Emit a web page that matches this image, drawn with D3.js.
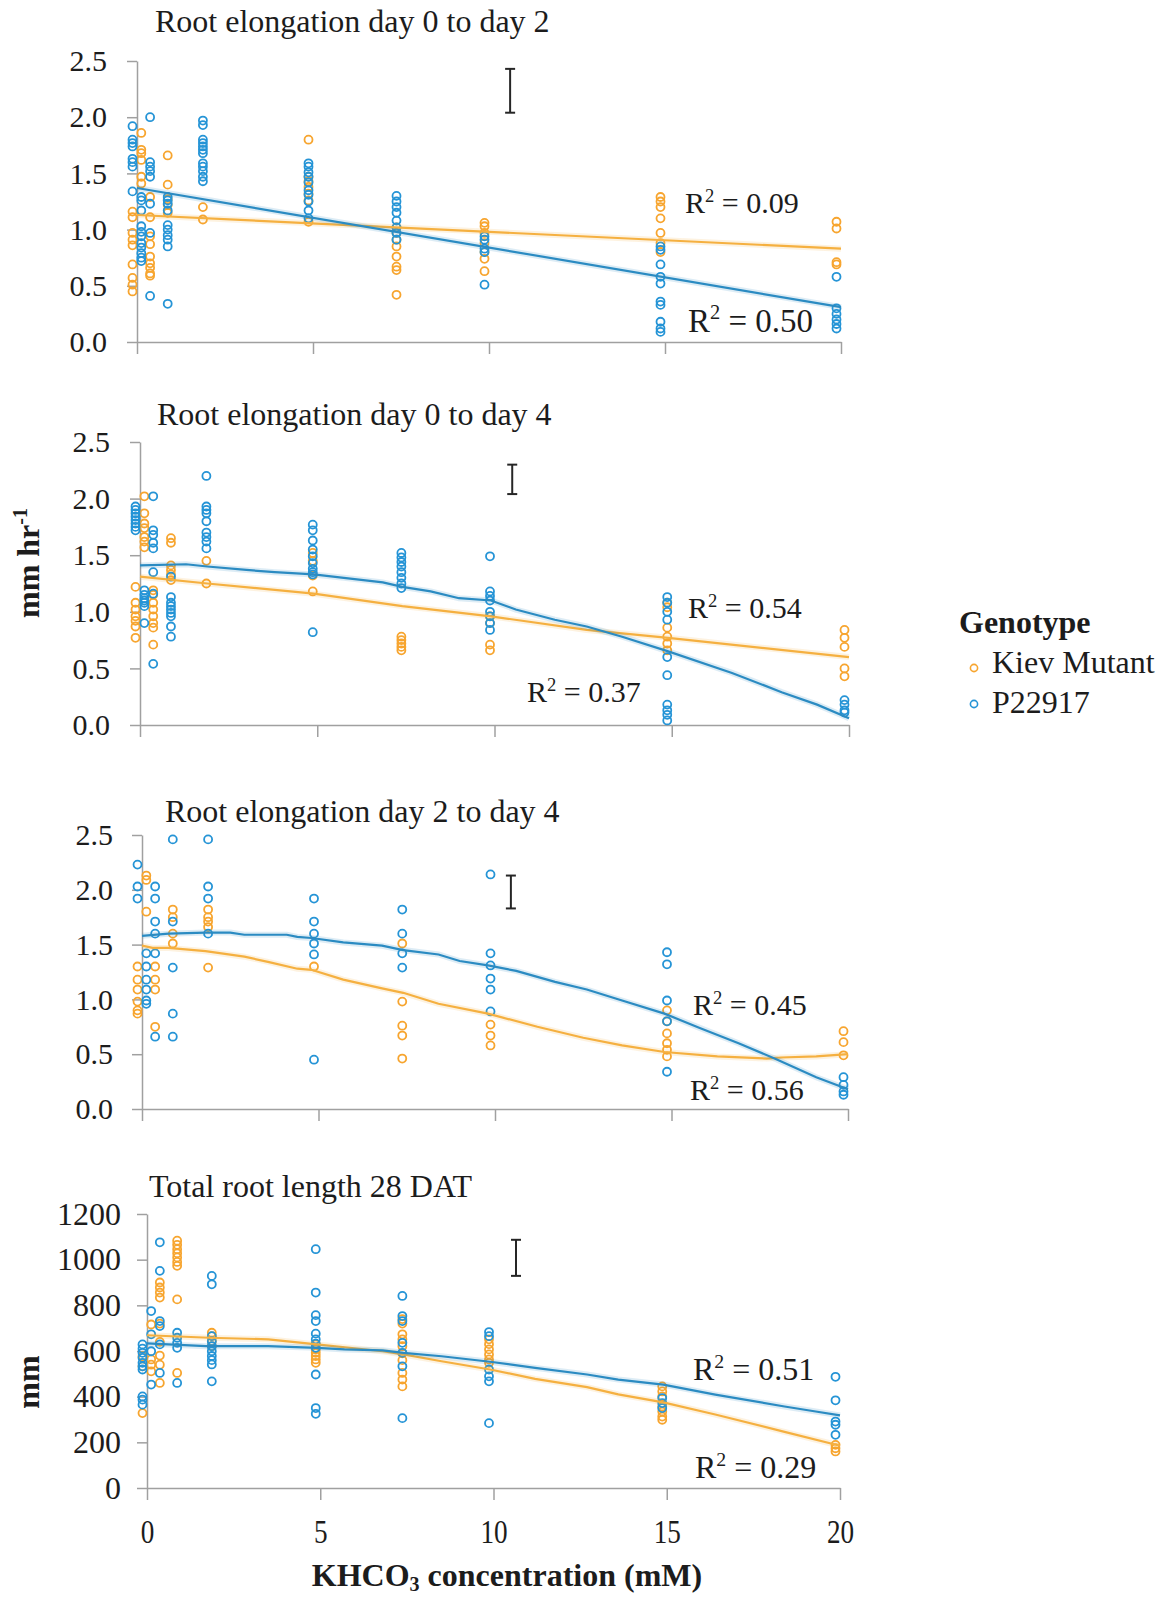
<!DOCTYPE html>
<html>
<head>
<meta charset="utf-8">
<script src="https://cdn.jsdelivr.net/npm/d3@7"></script>
<style>
  html, body { margin: 0; padding: 0; background: #fff; }
  svg { display: block; font-family: "Liberation Serif", "Times New Roman", serif; }
</style>
</head>
<body>
<svg id="chart" width="1170" height="1597"></svg>
<script>
// KHCO3 concentrations (mM) at which roots were measured
const concentrations = [0, 0.25, 0.5, 1, 2, 5, 7.5, 10, 15, 20];
const xTicks = [0, 5, 10, 15, 20];
const rateTicks = [0, 0.5, 1.0, 1.5, 2.0, 2.5];
const lengthTicks = [0, 200, 400, 600, 800, 1000, 1200];
const genotypes = ["Kiev Mutant", "P22917"];
const panelTitles = [
  "Root elongation day 0 to day 2",
  "Root elongation day 0 to day 4",
  "Root elongation day 2 to day 4",
  "Total root length 28 DAT"
];

// Elongation rate (mm hr-1), one list of plants per concentration
const day0to2Kiev = [
  [1.16, 1.11, 0.97, 0.91, 0.86, 0.69, 0.57, 0.51, 0.45],
  [1.86, 1.71, 1.68, 1.62, 1.47, 1.41],
  [1.29, 1.11, 0.94, 0.87, 0.76, 0.70, 0.66, 0.61, 0.59],
  [1.66, 1.40, 1.27, 1.22, 1.15],
  [1.20, 1.09],
  [1.80, 1.47, 1.43, 1.38, 1.32, 1.26, 1.07],
  [1.02, 0.97, 0.91, 0.85, 0.76, 0.67, 0.64, 0.42],
  [1.06, 1.03, 0.97, 0.88, 0.80, 0.74, 0.63],
  [1.29, 1.25, 1.20, 1.10, 0.97, 0.88, 0.80],
  [1.07, 1.01, 0.71, 0.69]
];
const day0to2P22917 = [
  [1.92, 1.80, 1.77, 1.74, 1.63, 1.60, 1.56, 1.34],
  [1.29, 1.26, 1.17, 1.03, 0.98, 0.94, 0.88, 0.84, 0.79, 0.75, 0.72],
  [2.00, 1.60, 1.56, 1.52, 1.47, 1.23, 0.97, 0.41],
  [1.29, 1.26, 1.23, 1.17, 1.04, 1.00, 0.95, 0.91, 0.85, 0.34],
  [1.97, 1.93, 1.80, 1.77, 1.74, 1.71, 1.68, 1.59, 1.56, 1.52, 1.47, 1.43],
  [1.59, 1.56, 1.51, 1.47, 1.42, 1.35, 1.31, 1.25, 1.17, 1.10],
  [1.30, 1.25, 1.20, 1.15, 1.08, 1.02, 0.97, 0.91],
  [0.94, 0.91, 0.83, 0.80, 0.51],
  [0.85, 0.82, 0.69, 0.58, 0.52, 0.36, 0.33, 0.18, 0.12, 0.09],
  [0.58, 0.30, 0.25, 0.20, 0.16, 0.12]
];
const day0to4Kiev = [
  [1.22, 1.08, 1.02, 0.96, 0.92, 0.87, 0.77],
  [2.02, 1.87, 1.78, 1.74, 1.66, 1.62, 1.57],
  [1.19, 1.15, 1.08, 1.02, 0.96, 0.90, 0.86, 0.71],
  [1.65, 1.61, 1.41, 1.37, 1.33, 1.28],
  [1.45, 1.25],
  [1.52, 1.45, 1.32, 1.18],
  [0.78, 0.75, 0.72, 0.69, 0.66],
  [0.96, 0.90, 0.71, 0.66],
  [1.08, 1.04, 0.86, 0.78, 0.72, 0.66],
  [0.84, 0.77, 0.69, 0.50, 0.43]
];
const day0to4P22917 = [
  [1.93, 1.90, 1.87, 1.84, 1.81, 1.78, 1.75, 1.72],
  [1.19, 1.15, 1.12, 1.10, 1.08, 1.05, 0.90],
  [2.02, 1.72, 1.68, 1.61, 1.56, 1.35, 1.16, 0.54],
  [1.31, 1.13, 1.08, 1.05, 1.02, 0.99, 0.96, 0.87, 0.78],
  [2.20, 1.93, 1.90, 1.87, 1.80, 1.70, 1.66, 1.62, 1.56],
  [1.77, 1.72, 1.63, 1.55, 1.49, 1.43, 1.38, 1.35, 1.33, 0.82],
  [1.52, 1.48, 1.44, 1.40, 1.35, 1.30, 1.25, 1.21],
  [1.49, 1.18, 1.14, 1.10, 1.00, 0.96, 0.90, 0.84],
  [1.13, 1.08, 1.00, 0.93, 0.60, 0.44, 0.18, 0.13, 0.09, 0.04],
  [0.22, 0.18, 0.13, 0.11]
];
const day2to4Kiev = [
  [1.30, 1.18, 1.09, 0.98, 0.90, 0.87],
  [2.13, 2.09, 1.80],
  [1.30, 1.18, 1.09, 0.75],
  [1.82, 1.75, 1.60, 1.51],
  [1.82, 1.75, 1.71, 1.66, 1.29],
  [1.30],
  [1.51, 0.98, 0.76, 0.67, 0.46],
  [0.77, 0.67, 0.58],
  [0.90, 0.80, 0.69, 0.60, 0.54, 0.48],
  [0.71, 0.61, 0.49]
];
const day2to4P22917 = [
  [2.23, 2.03, 1.92],
  [1.42, 1.30, 1.18, 1.09, 0.99, 0.96],
  [2.03, 1.92, 1.71, 1.60, 1.42, 0.66],
  [2.46, 1.71, 1.29, 0.87, 0.66],
  [2.46, 2.03, 1.92, 1.60],
  [1.92, 1.71, 1.60, 1.51, 1.41, 0.45],
  [1.82, 1.60, 1.42, 1.29],
  [2.14, 1.42, 1.31, 1.19, 1.09, 0.89],
  [1.43, 1.32, 0.99, 0.80, 0.34],
  [0.29, 0.22, 0.16, 0.13]
];
// Total root length (mm) at 28 days after transplanting
const lengthKiev = [
  [577, 533, 328],
  [716, 563, 540, 511],
  [900, 878, 856, 834, 720, 640, 580, 540, 460],
  [1083, 1065, 1046, 1028, 1010, 990, 973, 826, 504],
  [680, 665, 643, 621],
  [629, 607, 592, 578, 563, 548],
  [740, 720, 673, 651, 621, 590, 560, 504, 475, 445],
  [651, 630, 607, 585, 563, 548],
  [445, 423, 401, 357, 335, 313, 299],
  [189, 174, 160]
];
const lengthP22917 = [
  [629, 610, 592, 570, 548, 533, 519, 401, 387, 365],
  [775, 673, 599, 453],
  [1076, 951, 731, 709, 629, 504],
  [680, 658, 636, 614, 460],
  [929, 892, 665, 643, 621, 599, 578, 560, 541, 467],
  [1046, 856, 757, 731, 676, 651, 632, 614, 497, 350, 325],
  [841, 753, 731, 636, 592, 533, 306],
  [683, 665, 519, 489, 467, 284],
  [394, 372, 350],
  [487, 384, 291, 277, 233]
];

// Fitted trend lines, [concentration, value]
const day0to2KievFit = [[0, 1.13], [20, 0.83]];
const day0to2P22917Fit = [[0, 1.37], [20, 0.31]];
const day0to4KievFit = [[0, 1.31], [1.9, 1.25], [4.9, 1.16], [7.4, 1.05], [9.9, 0.96], [12.6, 0.84], [14.9, 0.77], [20, 0.60]];
const day0to4P22917Fit = [[0, 1.41], [1.3, 1.42], [1.9, 1.40], [3.0, 1.37], [3.8, 1.35], [4.9, 1.33], [5.75, 1.30], [6.85, 1.26], [7.4, 1.22], [8.2, 1.18], [9.0, 1.12], [9.9, 1.10], [10.6, 1.02], [11.7, 0.93], [12.6, 0.87], [13.6, 0.78], [14.9, 0.65], [16.7, 0.46], [18.1, 0.29], [19.1, 0.18], [20, 0.06]];
const day2to4KievFit = [[0, 1.49], [0.3, 1.47], [0.75, 1.47], [1.8, 1.44], [2.9, 1.39], [3.6, 1.34], [4.4, 1.28], [4.8, 1.27], [5.7, 1.18], [6.8, 1.10], [7.4, 1.06], [8.4, 0.96], [9.8, 0.87], [11.2, 0.75], [12.5, 0.65], [13.6, 0.58], [14.8, 0.52], [16.3, 0.48], [17.7, 0.46], [18.1, 0.47], [19.1, 0.48], [20, 0.50]];
const day2to4P22917Fit = [[0, 1.58], [0.75, 1.60], [1.8, 1.61], [2.5, 1.61], [2.9, 1.59], [4.1, 1.59], [4.4, 1.57], [4.8, 1.56], [5.7, 1.52], [6.8, 1.49], [7.4, 1.45], [8.4, 1.41], [9.0, 1.35], [9.8, 1.31], [10.6, 1.26], [11.7, 1.16], [12.6, 1.09], [13.6, 0.99], [14.8, 0.87], [15.8, 0.74], [16.9, 0.60], [18.0, 0.45], [19.1, 0.29], [20, 0.18]];
const lengthKievFit = [[0, 669], [1.8, 658], [3.5, 651], [4.9, 629], [6.8, 599], [7.4, 585], [8.5, 555], [9.9, 519], [11.2, 478], [12.7, 442], [13.6, 410], [14.9, 375], [16.4, 322], [18.4, 246], [20, 185]];
const lengthP22917Fit = [[0, 633], [1.7, 621], [3.5, 621], [4.9, 614], [5.7, 607], [6.8, 603], [7.4, 592], [8.5, 577], [9.9, 553], [11.2, 526], [12.7, 497], [13.6, 475], [14.9, 453], [16.4, 409], [18.4, 357], [19.3, 335], [20, 318]];

// Coefficients of determination printed beside each fit
const day0to2R2 = [0.09, 0.50];
const day0to4R2 = [0.54, 0.37];
const day2to4R2 = [0.45, 0.56];
const lengthR2 = [0.51, 0.29];

// Least significant difference bars: [concentration, low, high]
const day0to2Lsd = [10.6, 2.04, 2.43];
const day0to4Lsd = [10.5, 2.04, 2.30];
const day2to4Lsd = [10.45, 1.83, 2.13];
const lengthLsd = [10.65, 929, 1087];

// ---- styling ----
const POINT_COLOR = { kiev: "#f7a52f", p22917: "#2594d6" };
const LINE_COLOR = { kiev: "#f5b040", p22917: "#2b8bc2" };
const AXIS = "#a0a0a0";
const INK = "#1c1c1c";
const POINT_DX = -4.5;
const POINT_R = 4;

const panels = [
  { title: panelTitles[0], kiev: day0to2Kiev, p22917: day0to2P22917, kievFit: day0to2KievFit, p22917Fit: day0to2P22917Fit,
    r2: day0to2R2, lsd: day0to2Lsd, yMax: 2.5, yTicks: rateTicks, fmt: d3.format(".1f"), showX: false,
    layout: { x0: 137, x20: 841, yTop: 61, yBottom: 342, titleX: 155, titleY: 32, gap: 30, tickFont: 30,
              r2Pos: [[685, 213, 30], [688, 332, 33]] } },
  { title: panelTitles[1], kiev: day0to4Kiev, p22917: day0to4P22917, kievFit: day0to4KievFit, p22917Fit: day0to4P22917Fit,
    r2: day0to4R2, lsd: day0to4Lsd, yMax: 2.5, yTicks: rateTicks, fmt: d3.format(".1f"), showX: false,
    layout: { x0: 140, x20: 849, yTop: 442, yBottom: 725, titleX: 157, titleY: 425, gap: 30, tickFont: 30,
              r2Pos: [[688, 618, 30], [527, 702, 30]] } },
  { title: panelTitles[2], kiev: day2to4Kiev, p22917: day2to4P22917, kievFit: day2to4KievFit, p22917Fit: day2to4P22917Fit,
    r2: day2to4R2, lsd: day2to4Lsd, yMax: 2.5, yTicks: rateTicks, fmt: d3.format(".1f"), showX: false,
    layout: { x0: 142, x20: 848, yTop: 835, yBottom: 1109, titleX: 165, titleY: 822, gap: 29, tickFont: 30,
              r2Pos: [[693, 1015, 30], [690, 1100, 30]] } },
  { title: panelTitles[3], kiev: lengthKiev, p22917: lengthP22917, kievFit: lengthKievFit, p22917Fit: lengthP22917Fit,
    r2: lengthR2, lsd: lengthLsd, yMax: 1200, yTicks: lengthTicks, fmt: d3.format("d"), showX: true,
    layout: { x0: 147, x20: 840, yTop: 1214, yBottom: 1488, titleX: 149, titleY: 1197, gap: 26, tickFont: 32,
              r2Pos: [[693, 1380, 32], [695, 1478, 32]] } }
];

const svg = d3.select("#chart");

function flatten(rows, key) {
  return rows.flatMap((vals, i) => vals.map(v => ({ c: concentrations[i], v, key })));
}

function drawPanel(p) {
  const L = p.layout;
  const x = d3.scaleLinear().domain([0, 20]).range([L.x0, L.x20]);
  const y = d3.scaleLinear().domain([0, p.yMax]).range([L.yBottom, L.yTop]);
  const g = svg.append("g");

  // y axis with outward ticks
  const gy = g.append("g")
    .attr("transform", `translate(${L.x0},0)`)
    .call(d3.axisLeft(y).tickValues(p.yTicks).tickSize(10).tickSizeOuter(0)
      .tickPadding(L.gap - 10).tickFormat(p.fmt));
  gy.attr("font-family", null).attr("font-size", null);
  gy.select(".domain").attr("stroke", AXIS).attr("stroke-width", 1.5);
  gy.selectAll(".tick line").attr("stroke", AXIS).attr("stroke-width", 1.5);
  gy.selectAll(".tick text").attr("font-size", L.tickFont).attr("fill", INK);

  // x axis with downward ticks; numbers only under the last panel
  const gx = g.append("g")
    .attr("transform", `translate(0,${L.yBottom})`)
    .call(d3.axisBottom(x).tickValues(xTicks).tickSize(12).tickSizeOuter(0)
      .tickPadding(19).tickFormat(p.showX ? d3.format("d") : () => ""));
  gx.attr("font-family", null).attr("font-size", null);
  gx.select(".domain").attr("stroke", AXIS).attr("stroke-width", 1.5);
  gx.selectAll(".tick line").attr("stroke", AXIS).attr("stroke-width", 1.5);
  gx.selectAll(".tick text").attr("font-size", 34).attr("fill", INK)
    .attr("transform", "scale(0.8,1)");

  // individual plants
  const pts = flatten(p.kiev, "kiev").concat(flatten(p.p22917, "p22917"));
  g.append("g").attr("transform", `translate(${POINT_DX},0)`)
    .selectAll("circle").data(pts).join("circle")
    .attr("cx", d => x(d.c)).attr("cy", d => y(d.v)).attr("r", POINT_R)
    .attr("fill", "none").attr("stroke", d => POINT_COLOR[d.key]).attr("stroke-width", 1.8);

  // trend lines with a faint halo
  const line = d3.line().x(d => x(d[0])).y(d => y(d[1]));
  [["kiev", p.kievFit], ["p22917", p.p22917Fit]].forEach(([key, fit]) => {
    g.append("path").attr("d", line(fit)).attr("fill", "none")
      .attr("stroke", LINE_COLOR[key]).attr("stroke-width", 6).attr("stroke-opacity", 0.16);
    g.append("path").attr("d", line(fit)).attr("fill", "none")
      .attr("stroke", LINE_COLOR[key]).attr("stroke-width", 2.2);
  });

  // LSD bar
  const [lc, lo, hi] = p.lsd;
  const eb = g.append("g").attr("stroke", "#262626").attr("stroke-width", 2);
  eb.append("line").attr("x1", x(lc)).attr("x2", x(lc)).attr("y1", y(lo)).attr("y2", y(hi));
  eb.append("line").attr("x1", x(lc) - 5).attr("x2", x(lc) + 5).attr("y1", y(lo)).attr("y2", y(lo));
  eb.append("line").attr("x1", x(lc) - 5).attr("x2", x(lc) + 5).attr("y1", y(hi)).attr("y2", y(hi));

  // panel title
  g.append("text").attr("x", L.titleX).attr("y", L.titleY)
    .attr("font-size", 32).attr("fill", INK).text(p.title);

  // R² annotations
  p.r2.forEach((val, i) => {
    const [tx, ty, fs] = L.r2Pos[i];
    const t = g.append("text").attr("x", tx).attr("y", ty).attr("font-size", fs).attr("fill", INK);
    t.append("tspan").text("R");
    t.append("tspan").attr("dy", -0.38 * fs).attr("font-size", 0.62 * fs).text("2");
    t.append("tspan").attr("dy", 0.38 * fs).text(" = " + d3.format(".2f")(val));
  });
}

panels.forEach(drawPanel);

// y axis titles
const rateTitle = svg.append("text")
  .attr("transform", "translate(39,563) rotate(-90)")
  .attr("text-anchor", "middle").attr("font-size", 32).attr("font-weight", "bold").attr("fill", INK);
rateTitle.append("tspan").text("mm hr");
rateTitle.append("tspan").attr("dy", -12).attr("font-size", 20).text("-1");

svg.append("text")
  .attr("transform", "translate(39,1382) rotate(-90)")
  .attr("text-anchor", "middle").attr("font-size", 32).attr("font-weight", "bold").attr("fill", INK)
  .text("mm");

// x axis title
const xTitle = svg.append("text").attr("x", 507).attr("y", 1586)
  .attr("text-anchor", "middle").attr("font-size", 32).attr("font-weight", "bold").attr("fill", INK);
xTitle.append("tspan").text("KHCO");
xTitle.append("tspan").attr("dy", 5).attr("font-size", 20).text("3");
xTitle.append("tspan").attr("dy", -5).text(" concentration (mM)");

// legend
const legend = svg.append("g");
legend.append("text").attr("x", 959).attr("y", 633).attr("font-size", 32)
  .attr("font-weight", "bold").attr("fill", INK).text("Genotype");
genotypes.forEach((name, i) => {
  const key = i === 0 ? "kiev" : "p22917";
  legend.append("circle").attr("cx", 974).attr("cy", 668 + i * 36).attr("r", 3.6)
    .attr("fill", "none").attr("stroke", POINT_COLOR[key]).attr("stroke-width", 1.6);
  legend.append("text").attr("x", 992).attr("y", 673 + i * 40).attr("font-size", 32)
    .attr("fill", INK).text(name);
});
</script>
</body>
</html>
